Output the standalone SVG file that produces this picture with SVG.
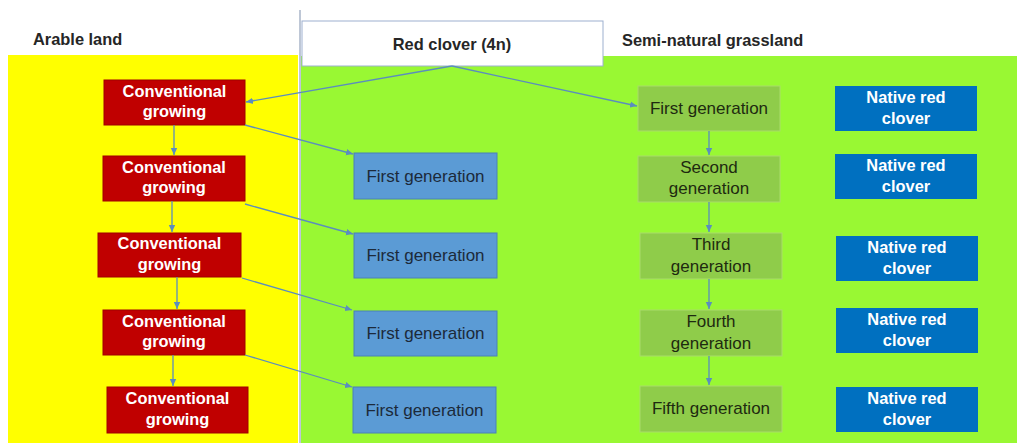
<svg xmlns="http://www.w3.org/2000/svg" width="1021" height="443" viewBox="0 0 1021 443">
<defs>
<marker id="ah" markerUnits="userSpaceOnUse" markerWidth="8" markerHeight="8" refX="7" refY="4" orient="auto">
<path d="M0,0.8 L7,4 L0,7.2 Z" fill="#5B8DBE"/>
</marker>
</defs>
<style>
.t{font-family:"Liberation Sans",Arial,sans-serif;text-anchor:middle}
.b{font-weight:bold;font-size:16.4px}
.r{font-size:17px}
.head{font-family:"Liberation Sans",Arial,sans-serif;font-weight:bold;font-size:16.4px;fill:#262626}
.red rect{fill:#C00000;stroke:#A00000;stroke-width:1}
.red text{fill:#FFFFFF}
.blue rect{fill:#5B9BD5;stroke:#4A80B8;stroke-width:1}
.blue text{fill:#1C2A3A}
.grn rect{fill:#8FCC4A;stroke:#A9DC6B;stroke-width:1}
.grn text{fill:#1E2A10}
.nat rect{fill:#0070C0}
.nat text{fill:#FFFFFF}
.c line{stroke:#5B8DBE;stroke-width:1.3;marker-end:url(#ah)}
</style>
<rect x="0" y="0" width="1021" height="443" fill="#FFFFFF"/>
<rect x="8" y="55" width="290" height="388" fill="#FFFF00"/>
<rect x="301" y="56" width="716" height="387" fill="#99F833"/>
<line x1="300" y1="10" x2="300" y2="443" stroke="#A8B4C8" stroke-width="1.5"/>

<text class="head" x="33" y="45">Arable land</text>
<text class="head" x="622" y="46">Semi-natural grassland</text>

<g id="redclover">
<rect x="302" y="21" width="301" height="45" fill="#FFFFFF" stroke="#9DB0CF" stroke-width="1"/>
<text class="t b" x="452" y="50" fill="#262626">Red clover (4n)</text>
</g>

<g id="conv1" class="red"><rect x="104" y="80" width="141" height="45"/><text class="t b" x="174.5" y="97">Conventional</text><text class="t b" x="174.5" y="117">growing</text></g>
<g id="conv2" class="red"><rect x="103" y="156" width="142" height="45"/><text class="t b" x="174" y="173">Conventional</text><text class="t b" x="174" y="193">growing</text></g>
<g id="conv3" class="red"><rect x="98" y="233" width="143" height="44"/><text class="t b" x="169.5" y="249">Conventional</text><text class="t b" x="169.5" y="270">growing</text></g>
<g id="conv4" class="red"><rect x="103" y="310" width="142" height="45"/><text class="t b" x="174" y="327">Conventional</text><text class="t b" x="174" y="347">growing</text></g>
<g id="conv5" class="red"><rect x="107" y="387" width="141" height="46"/><text class="t b" x="177.5" y="404">Conventional</text><text class="t b" x="177.5" y="425">growing</text></g>

<g id="fg1" class="blue"><rect x="354" y="153" width="143" height="46"/><text class="t r" x="425.5" y="182">First generation</text></g>
<g id="fg2" class="blue"><rect x="354" y="233" width="143" height="45"/><text class="t r" x="425.5" y="261">First generation</text></g>
<g id="fg3" class="blue"><rect x="354" y="311" width="143" height="45"/><text class="t r" x="425.5" y="339">First generation</text></g>
<g id="fg4" class="blue"><rect x="353" y="387" width="143" height="46"/><text class="t r" x="424.5" y="416">First generation</text></g>

<g id="gen1" class="grn"><rect x="638" y="86" width="142" height="45"/><text class="t r" x="709" y="114">First generation</text></g>
<g id="gen2" class="grn"><rect x="638" y="156" width="142" height="46"/><text class="t r" x="709" y="173">Second</text><text class="t r" x="709" y="194">generation</text></g>
<g id="gen3" class="grn"><rect x="640" y="233" width="142" height="46"/><text class="t r" x="711" y="250">Third</text><text class="t r" x="711" y="272">generation</text></g>
<g id="gen4" class="grn"><rect x="640" y="310" width="142" height="46"/><text class="t r" x="711" y="327">Fourth</text><text class="t r" x="711" y="349">generation</text></g>
<g id="gen5" class="grn"><rect x="640" y="386" width="142" height="46"/><text class="t r" x="711" y="414">Fifth generation</text></g>

<g id="nat1" class="nat"><rect x="835" y="86" width="142" height="45"/><text class="t b" x="906" y="103">Native red</text><text class="t b" x="906" y="124">clover</text></g>
<g id="nat2" class="nat"><rect x="835" y="154" width="142" height="45"/><text class="t b" x="906" y="171">Native red</text><text class="t b" x="906" y="192">clover</text></g>
<g id="nat3" class="nat"><rect x="836" y="236" width="142" height="45"/><text class="t b" x="907" y="253">Native red</text><text class="t b" x="907" y="274">clover</text></g>
<g id="nat4" class="nat"><rect x="836" y="308" width="142" height="45"/><text class="t b" x="907" y="325">Native red</text><text class="t b" x="907" y="346">clover</text></g>
<g id="nat5" class="nat"><rect x="836" y="387" width="142" height="45"/><text class="t b" x="907" y="404">Native red</text><text class="t b" x="907" y="425">clover</text></g>

<g id="connectors" class="c">
<line x1="452" y1="66" x2="246" y2="102"/>
<line x1="452" y1="66" x2="637" y2="106"/>
<line x1="245" y1="125" x2="353" y2="154"/>
<line x1="245" y1="204" x2="353" y2="234"/>
<line x1="242" y1="278" x2="352" y2="310"/>
<line x1="245" y1="355" x2="352" y2="387"/>
<line x1="174" y1="125" x2="174" y2="155"/>
<line x1="172" y1="201" x2="172" y2="232"/>
<line x1="177" y1="277" x2="177" y2="309"/>
<line x1="173" y1="355" x2="173" y2="386"/>
<line x1="709" y1="131" x2="709" y2="155"/>
<line x1="709" y1="202" x2="709" y2="232"/>
<line x1="709" y1="279" x2="709" y2="309"/>
<line x1="709" y1="356" x2="709" y2="385"/>
</g>
</svg>
